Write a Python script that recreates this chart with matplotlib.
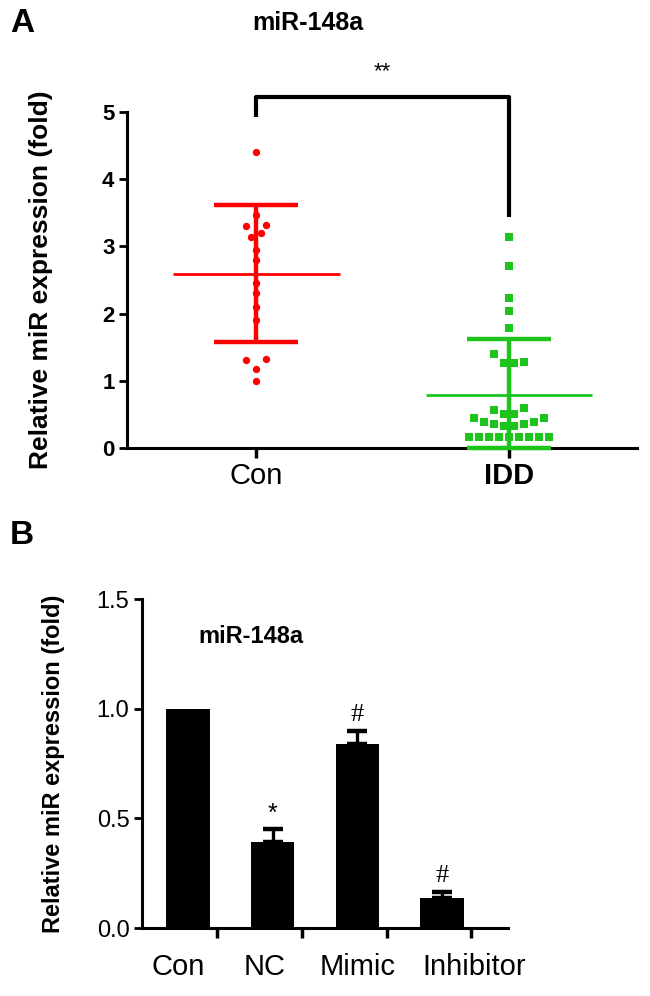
#!/usr/bin/env python
# -*- coding: utf-8 -*-
"""
miR-148a expression: (A) Con vs IDD scatter with mean/SD, (B) bar chart of transfection groups
"""

import matplotlib
matplotlib.use('Agg')
import matplotlib.pyplot as plt
import numpy as np

plt.rcParams['font.family'] = ['Liberation Sans', 'DejaVu Sans']

# ---------------- data ----------------
# panel A: individual samples
con_values = [4.40, 3.47, 3.32, 3.30, 3.20, 3.14, 2.95, 2.80, 2.45, 2.30,
              2.10, 1.90, 1.33, 1.31, 1.18, 1.00]
idd_values = [3.14, 2.71, 2.23, 2.04, 1.78,
              1.40, 1.26, 1.26, 1.28,
              0.57, 0.59, 0.50, 0.50, 0.44, 0.44, 0.38, 0.38, 0.36, 0.36, 0.33, 0.33,
              0.17, 0.17, 0.17, 0.17, 0.17, 0.17, 0.17, 0.17, 0.17]
con_mean, con_sd = 2.59, 1.02
idd_mean, idd_sd = 0.79, 0.83

# panel B: group means and SEM
groups = ['Con', 'NC', 'Mimic', 'Inhibitor']
bar_means = [1.00, 0.39, 0.84, 0.137]
bar_errs = [0.0, 0.06, 0.06, 0.028]
bar_marks = ['', '*', '#', '#']

# ---------------- layout (pixel offsets of the beeswarm, in dots) ----------------
con_offsets = [0, 0, 10, -10, 5, -5, 0, 0, 0, 0, 0, 0, 10, -10, 0, 0]
idd_offsets = [0, 0, 0, 0, 0,
               -15, -5, 5, 15,
               -15, 15, -5, 5, -35, 35, -25, 25, -15, 15, -5, 5,
               -40, -30, -20, -10, 0, 10, 20, 30, 40]

RED = '#FF0000'
GREEN = '#1CC41C'
W, H = 650, 996

fig = plt.figure(figsize=(W / 100, H / 100), dpi=100)


def frac(x0, y0, x1, y1):
    """pixel box (left, top, right, bottom) -> figure fraction rect"""
    return [x0 / W, 1 - y1 / H, (x1 - x0) / W, (y1 - y0) / H]


# ================= Panel A =================
axA = fig.add_axes(frac(127, 112, 637, 448))
px_per_unit = 253.0
for xi, vals, offs, col, mk, ms, mean, sd in [
        (0, con_values, con_offsets, RED, 'o', 5.3, con_mean, con_sd),
        (1, idd_values, idd_offsets, GREEN, 's', 5.2, idd_mean, idd_sd)]:
    xs = xi + np.array(offs) / px_per_unit
    axA.plot(xs, vals, linestyle='none', marker=mk, markersize=ms,
             color=col, markeredgewidth=0, clip_on=False, zorder=3)
    lo = min(sd, mean)
    axA.errorbar([xi], [mean], yerr=[[lo], [sd]], fmt='none', ecolor=col,
                 elinewidth=3.2, capsize=30, capthick=3.2, clip_on=False, zorder=4)
    axA.hlines(mean, xi - 0.33, xi + 0.33, color=col, linewidth=2.0, zorder=4)

# significance bracket
axA.plot([0, 0, 1, 1], [4.93, 5.22, 5.22, 3.44], color='black', linewidth=3.0,
         clip_on=False, solid_joinstyle='round', solid_capstyle='butt')
axA.text(0.5, 5.6, '**', ha='center', va='center', fontsize=16)

axA.set_xlim(-0.51, 1.506)
axA.set_ylim(0, 5)
axA.set_yticks([0, 1, 2, 3, 4, 5])
axA.set_xticks([0, 1])
axA.set_xticklabels(['Con', 'IDD'])
axA.get_xticklabels()[1].set_fontweight('bold')
for lab in axA.get_yticklabels():
    lab.set_fontweight('bold')
axA.tick_params(axis='y', labelsize=16, width=2, length=6, pad=3)
axA.tick_params(axis='x', labelsize=21, width=2.5, length=7, pad=3)
axA.spines['top'].set_visible(False)
axA.spines['right'].set_visible(False)
axA.spines['left'].set_linewidth(2.2)
axA.spines['bottom'].set_linewidth(2.2)
axA.set_ylabel('Relative miR expression (fold)', fontsize=19, fontweight='bold')
axA.yaxis.set_label_coords(-0.145, 0.5)

fig.text(10 / W, 1 - 23 / H, 'A', fontsize=24, fontweight='bold', ha='left', va='center')
fig.text(308 / W, 1 - 23 / H, 'miR-148a', fontsize=18, fontweight='bold',
         ha='center', va='center')

# ================= Panel B =================
axB = fig.add_axes(frac(142, 599, 508, 928))
xb = np.arange(len(groups))
axB.bar(xb, bar_means, width=0.51, color='black', zorder=2)
for x, m, e, s in zip(xb, bar_means, bar_errs, bar_marks):
    if e > 0:
        axB.errorbar([x], [m], yerr=[[0], [e]], fmt='none', ecolor='black',
                     elinewidth=2.4, capsize=7, capthick=3.2, zorder=1)
    if s == '*':
        axB.text(x, m + e + 0.07, s, ha='center', va='center', fontsize=18)
    elif s == '#':
        axB.text(x, m + e + 0.07, s, ha='center', va='center', fontsize=19,
                 family='Liberation Serif')

axB.set_xlim(-0.543, 3.78)
axB.set_ylim(0, 1.5)
axB.set_yticks([0.0, 0.5, 1.0, 1.5])
axB.set_yticklabels(['0.0', '0.5', '1.0', '1.5'])
axB.set_xticks(xb + 0.345)
axB.set_xticklabels([])
label_shift = [-0.12, -0.09, 0.0, 0.38]
for x, g, sh in zip(xb, groups, label_shift):
    axB.text(x + sh, -0.18, g, ha='center', va='center', fontsize=21,
             transform=axB.transData, clip_on=False)
axB.tick_params(axis='y', labelsize=17, width=2, length=6, pad=3)
axB.tick_params(axis='x', width=2.5, length=7)
axB.spines['top'].set_visible(False)
axB.spines['right'].set_visible(False)
axB.spines['left'].set_linewidth(2.2)
axB.spines['bottom'].set_linewidth(2.2)
axB.set_ylabel('Relative miR expression (fold)', fontsize=17, fontweight='bold')
axB.yaxis.set_label_coords(-0.21, 0.5)
axB.text(0.74, 1.33, 'miR-148a', fontsize=17, fontweight='bold', ha='center', va='center')

fig.text(10 / W, 1 - 535 / H, 'B', fontsize=24, fontweight='bold', ha='left', va='center')

plt.savefig('out.png', dpi=100)
